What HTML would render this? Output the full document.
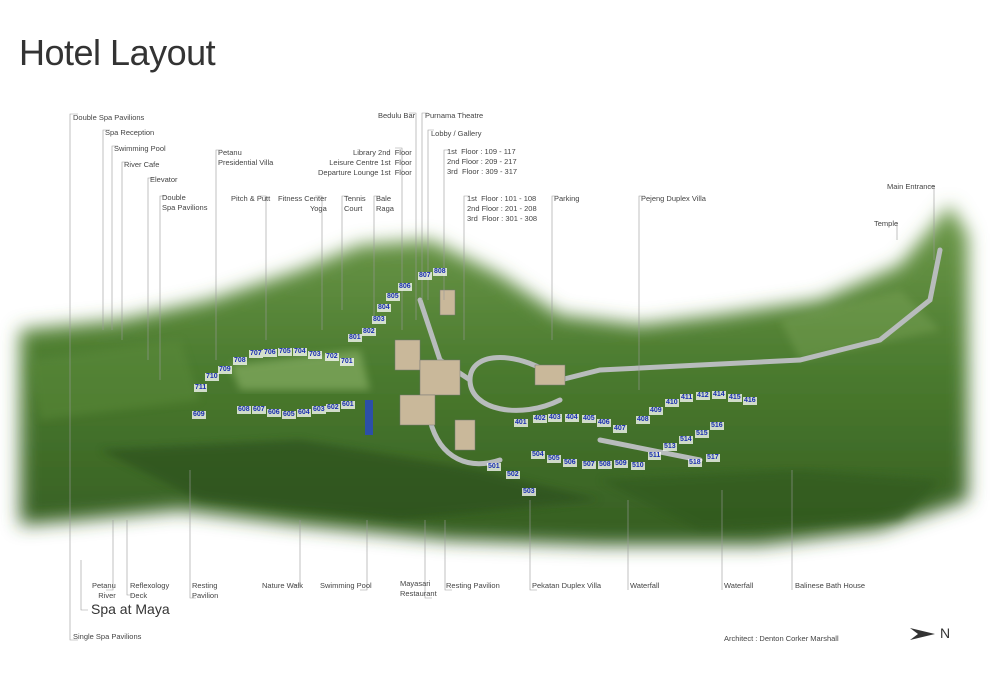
<!DOCTYPE html>
<html><head><meta charset="utf-8"><style>
body{margin:0;background:#fff;width:990px;height:700px;overflow:hidden;position:relative;font-family:"Liberation Sans",sans-serif}
.t{position:absolute;font-size:7.5px;color:#444;line-height:10px;white-space:nowrap}
.n{position:absolute;font-size:7px;color:#1a2fb0;font-weight:bold;background:rgba(255,255,255,.75);padding:0 1px;line-height:8px}
</style></head><body>
<div style="position:absolute;left:19px;top:32px;font-size:36px;color:#333;letter-spacing:-0.5px">Hotel Layout</div>
<svg width="990" height="700" style="position:absolute;left:0;top:0">
<defs>
<filter id="b" x="-10%" y="-30%" width="120%" height="160%"><feGaussianBlur stdDeviation="9"/></filter>
<filter id="b2"><feGaussianBlur stdDeviation="4"/></filter>
<linearGradient id="g" x1="0" y1="0" x2="0" y2="1"><stop offset="0" stop-color="#6f9a4c"/><stop offset=".5" stop-color="#4a7a2e"/><stop offset="1" stop-color="#355d22"/></linearGradient>
</defs>
<path filter="url(#b)" fill="url(#g)" d="M20,330 L120,320 L210,300 L300,270 L360,245 L430,240 L500,275 L560,315 L640,325 L720,315 L820,300 L900,265 L950,205 L968,235 L968,500 L880,530 L760,545 L600,545 L450,540 L300,525 L180,510 L80,520 L20,525 Z"/>
<path filter="url(#b2)" fill="#8fb56a" opacity=".6" d="M230,365 L360,350 L370,390 L240,390 Z"/>
<path filter="url(#b2)" fill="#2a4d1b" opacity=".6" d="M100,450 L300,440 L480,470 L600,500 L400,520 L200,500 Z"/>
<path filter="url(#b2)" fill="#2f561f" opacity=".5" d="M600,480 L800,470 L940,480 L900,520 L700,530 Z"/>
<path filter="url(#b2)" fill="#5c8a3a" opacity=".5" d="M30,360 L180,340 L200,400 L40,420 Z"/>
<path filter="url(#b2)" fill="#7aa356" opacity=".45" d="M780,320 L900,290 L940,330 L800,360 Z"/>
<g fill="none" stroke="#b8bcbc" stroke-width="5" stroke-linecap="round">
<path d="M940,250 L930,300 L880,340 L800,360 L700,365 L600,370 L560,380"/>
<path d="M560,380 C520,350 470,350 470,380 C470,410 520,420 560,400"/>
<path d="M470,380 L440,360 L430,330 L420,300"/>
<path d="M430,420 C440,460 470,470 500,460"/>
<path d="M600,440 L700,460"/>
</g>
<g fill="#c9b89a" stroke="#777" stroke-width=".5">
<rect x="395" y="340" width="25" height="30"/><rect x="420" y="360" width="40" height="35"/><rect x="400" y="395" width="35" height="30"/><rect x="440" y="290" width="15" height="25"/><rect x="455" y="420" width="20" height="30"/><rect x="535" y="365" width="30" height="20"/>
</g>
<rect x="365" y="400" width="8" height="35" fill="#2c4fa8"/>
<g stroke="#999" stroke-width=".6" fill="none">
<path d="M78,114 L70,114 L70,640 L78,640"/>
<path d="M110,130 L103,130 L103,330"/>
<path d="M118,146 L112,146 L112,330"/>
<path d="M128,162 L122,162 L122,340"/>
<path d="M154,178 L148,178 L148,360"/>
<path d="M166,196 L160,196 L160,380"/>
<path d="M222,150 L216,150 L216,360"/>
<path d="M258,196 L266,196 L266,340"/>
<path d="M315,196 L322,196 L322,330"/>
<path d="M348,196 L342,196 L342,310"/>
<path d="M380,196 L374,196 L374,320"/>
<path d="M395,148 L402,148 L402,330"/>
<path d="M409,113 L416,113 L416,320"/>
<path d="M428,113 L422,113 L422,300"/>
<path d="M434,130 L428,130 L428,300"/>
<path d="M450,150 L444,150 L444,300"/>
<path d="M470,196 L464,196 L464,340"/>
<path d="M558,196 L552,196 L552,340"/>
<path d="M645,196 L639,196 L639,390"/>
<path d="M928,186 L934,186 L934,260"/>
<path d="M897,222 L897,240"/>
<path d="M81,560 L81,610 L88,610"/>
<path d="M113,520 L113,590 L106,590"/>
<path d="M127,520 L127,595 L133,595"/>
<path d="M190,470 L190,598 L196,598"/>
<path d="M300,520 L300,585 L293,585"/>
<path d="M367,520 L367,590 L360,590"/>
<path d="M425,520 L425,598 L432,598"/>
<path d="M445,520 L445,590 L452,590"/>
<path d="M530,500 L530,590 L537,590"/>
<path d="M628,500 L628,590"/>
<path d="M722,490 L722,590"/>
<path d="M792,470 L792,590"/>
</g>
<path d="M910,628 L935,634 L910,640 L918,634 Z" fill="#333"/>
</svg>
<div class="t" style="left:73px;top:113px">Double Spa Pavilions</div>
<div class="t" style="left:105px;top:128px">Spa Reception</div>
<div class="t" style="left:114px;top:144px">Swimming Pool</div>
<div class="t" style="left:124px;top:160px">River Cafe</div>
<div class="t" style="left:150px;top:175px">Elevator</div>
<div class="t" style="left:162px;top:193px">Double<br>Spa Pavilions</div>
<div class="t" style="left:218px;top:148px">Petanu<br>Presidential Villa</div>
<div class="t" style="left:231px;top:194px">Pitch &amp; Putt</div>
<div class="t" style="left:278px;top:194px;text-align:right">Fitness Center<br>&nbsp;&nbsp;&nbsp;&nbsp;&nbsp;&nbsp;&nbsp;&nbsp;&nbsp;&nbsp;&nbsp;&nbsp;&nbsp;Yoga</div>
<div class="t" style="left:344px;top:194px">Tennis<br>Court</div>
<div class="t" style="left:376px;top:194px">Bale<br>Raga</div>
<div class="t" style="left:318px;top:148px;text-align:right">Library 2nd &nbsp;Floor<br>Leisure Centre 1st &nbsp;Floor<br>Departure Lounge 1st &nbsp;Floor</div>
<div class="t" style="left:378px;top:111px">Bedulu Bar</div>
<div class="t" style="left:425px;top:111px">Purnama Theatre</div>
<div class="t" style="left:431px;top:129px">Lobby / Gallery</div>
<div class="t" style="left:447px;top:147px">1st &nbsp;Floor : 109 - 117<br>2nd Floor : 209 - 217<br>3rd &nbsp;Floor : 309 - 317</div>
<div class="t" style="left:467px;top:194px">1st &nbsp;Floor : 101 - 108<br>2nd Floor : 201 - 208<br>3rd &nbsp;Floor : 301 - 308</div>
<div class="t" style="left:554px;top:194px">Parking</div>
<div class="t" style="left:641px;top:194px">Pejeng Duplex Villa</div>
<div class="t" style="left:887px;top:182px">Main Entrance</div>
<div class="t" style="left:874px;top:219px">Temple</div>
<div class="t" style="left:92px;top:581px;text-align:right">Petanu<br>&nbsp;&nbsp;&nbsp;River</div>
<div class="t" style="left:130px;top:581px">Reflexology<br>Deck</div>
<div class="t" style="left:192px;top:581px">Resting<br>Pavilion</div>
<div class="t" style="left:262px;top:581px">Nature Walk</div>
<div class="t" style="left:320px;top:581px">Swimming Pool</div>
<div class="t" style="left:400px;top:579px">Mayasari<br>Restaurant</div>
<div class="t" style="left:446px;top:581px">Resting Pavilion</div>
<div class="t" style="left:532px;top:581px">Pekatan Duplex Villa</div>
<div class="t" style="left:630px;top:581px">Waterfall</div>
<div class="t" style="left:724px;top:581px">Waterfall</div>
<div class="t" style="left:795px;top:581px">Balinese Bath House</div>
<div style="position:absolute;left:91px;top:601px;font-size:14px;color:#333">Spa at Maya</div>
<div class="t" style="left:73px;top:632px">Single Spa Pavilions</div>
<div class="t" style="left:724px;top:634px">Architect : Denton Corker Marshall</div>
<div style="position:absolute;left:940px;top:625px;font-size:14px;color:#333">N</div>
<div class="n" style="left:418px;top:272px">807</div><div class="n" style="left:433px;top:268px">808</div>
<div class="n" style="left:398px;top:283px">806</div><div class="n" style="left:386px;top:293px">805</div>
<div class="n" style="left:377px;top:304px">804</div><div class="n" style="left:372px;top:316px">803</div>
<div class="n" style="left:362px;top:328px">802</div><div class="n" style="left:348px;top:334px">801</div>
<div class="n" style="left:233px;top:357px">708</div><div class="n" style="left:249px;top:350px">707</div>
<div class="n" style="left:263px;top:349px">706</div><div class="n" style="left:278px;top:348px">705</div>
<div class="n" style="left:293px;top:348px">704</div><div class="n" style="left:308px;top:351px">703</div>
<div class="n" style="left:325px;top:353px">702</div><div class="n" style="left:340px;top:358px">701</div>
<div class="n" style="left:218px;top:366px">709</div><div class="n" style="left:205px;top:373px">710</div>
<div class="n" style="left:194px;top:384px">711</div><div class="n" style="left:192px;top:411px">609</div>
<div class="n" style="left:237px;top:406px">608</div><div class="n" style="left:252px;top:406px">607</div>
<div class="n" style="left:267px;top:409px">606</div><div class="n" style="left:282px;top:411px">605</div>
<div class="n" style="left:297px;top:409px">604</div><div class="n" style="left:312px;top:406px">603</div>
<div class="n" style="left:326px;top:404px">602</div><div class="n" style="left:341px;top:401px">601</div>
<div class="n" style="left:514px;top:419px">401</div><div class="n" style="left:533px;top:415px">402</div>
<div class="n" style="left:548px;top:414px">403</div><div class="n" style="left:565px;top:414px">404</div>
<div class="n" style="left:582px;top:415px">405</div><div class="n" style="left:597px;top:419px">406</div>
<div class="n" style="left:613px;top:425px">407</div><div class="n" style="left:636px;top:416px">408</div>
<div class="n" style="left:649px;top:407px">409</div><div class="n" style="left:665px;top:399px">410</div>
<div class="n" style="left:680px;top:394px">411</div><div class="n" style="left:696px;top:392px">412</div>
<div class="n" style="left:712px;top:391px">414</div><div class="n" style="left:728px;top:394px">415</div>
<div class="n" style="left:743px;top:397px">416</div>
<div class="n" style="left:487px;top:463px">501</div><div class="n" style="left:506px;top:471px">502</div>
<div class="n" style="left:522px;top:488px">503</div><div class="n" style="left:531px;top:451px">504</div>
<div class="n" style="left:547px;top:455px">505</div><div class="n" style="left:563px;top:459px">506</div>
<div class="n" style="left:582px;top:461px">507</div><div class="n" style="left:598px;top:461px">508</div>
<div class="n" style="left:614px;top:460px">509</div><div class="n" style="left:631px;top:462px">510</div>
<div class="n" style="left:648px;top:452px">511</div><div class="n" style="left:663px;top:443px">513</div>
<div class="n" style="left:679px;top:436px">514</div><div class="n" style="left:695px;top:430px">515</div>
<div class="n" style="left:710px;top:422px">516</div><div class="n" style="left:706px;top:454px">517</div>
<div class="n" style="left:688px;top:459px">518</div>
</body></html>
